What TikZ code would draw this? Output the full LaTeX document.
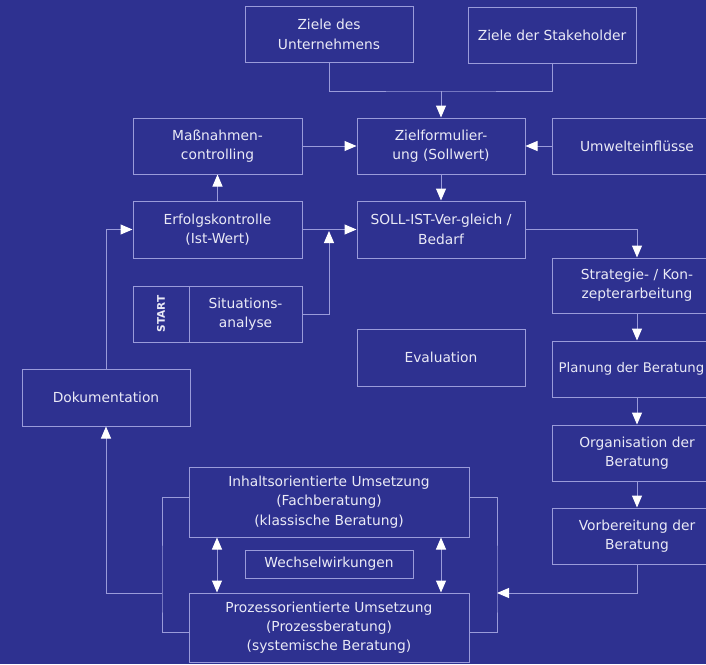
\documentclass[tikz,border=0pt]{standalone}
\usepackage{fontspec}
\setmainfont{DejaVu Sans}
\usetikzlibrary{arrows.meta}
\definecolor{bg}{HTML}{2E3190}
\definecolor{linec}{HTML}{9A9BDA}
\definecolor{txt}{HTML}{EAEAF6}
\begin{document}
\begin{tikzpicture}[x=1pt,y=-1pt,
  box/.style={draw=linec, line width=1pt, text=txt, align=center, inner sep=0pt,
    font=\fontsize{13.8}{19.3}\selectfont, minimum width=168pt, minimum height=56pt},
  conn/.style={draw=linec, line width=1pt},
  arr/.style={conn, -{Triangle[width=10pt,length=12pt,color=white]}},
  darr/.style={conn, {Triangle[width=10pt,length=12pt,color=white]}-{Triangle[width=10pt,length=12pt,color=white]}}]
\path[use as bounding box] (0,0) rectangle (706,664);
\clip (0,0) rectangle (706,664);
\fill[bg] (0,0) rectangle (706,664);
% boxes
\node[box] (zu) at (329,34.5) {Ziele des\\Unternehmens};
\node[box] (zs) at (552,35) {Ziele der Stakeholder};
\node[box, minimum width=169pt] (mc) at (217.5,146) {Maßnahmen-\\controlling};
\node[box] (zf) at (441,146) {Zielformulier-\\ung (Sollwert)};
\node[box, minimum width=170pt] (uw) at (637,146) {Umwelteinflüsse};
\node[box, minimum width=169pt, minimum height=57pt] (ek) at (217.5,229.5) {Erfolgskontrolle\\(Ist-Wert)};
\node[box, minimum height=57pt] (sb) at (441,229.5) {SOLL-IST-Ver-gleich /\\Bedarf};
\node[box, minimum width=56pt] (stt) at (161,314) {};
\node[text=txt, font=\bfseries\fontsize{10.5}{10.5}\selectfont, rotate=90] (stl) at (161,314) {START};
\node[box, minimum width=113pt] (si) at (245.5,314) {Situations-\\analyse};
\node[box, minimum height=57pt] (ev) at (441,357.5) {Evaluation};
\node[box, minimum width=170pt, minimum height=55pt] (sk) at (637,285.5) {Strategie- / Kon-\\zepterarbeitung};
\node[box, minimum width=170pt] (pl) at (637,369) {};
\node[text=txt, font=\fontsize{13.3}{19}\selectfont, inner sep=0pt] (plt) at (631.5,369) {Planung der Beratung};
\node[box, minimum width=170pt] (og) at (637,453) {Organisation der\\Beratung};
\node[box, minimum width=170pt] (vb) at (637,536) {Vorbereitung der\\Beratung};
\node[box, minimum height=57pt] (dk) at (106,397.5) {Dokumentation};
\node[box, minimum width=280pt, minimum height=70pt] (ih) at (329,502) {Inhaltsorientierte Umsetzung\\(Fachberatung)\\(klassische Beratung)};
\node[box, minimum width=280pt, minimum height=69pt] (pz) at (329,627.5) {Prozessorientierte Umsetzung\\(Prozessberatung)\\(systemische Beratung)};
\node[box, minimum height=28pt] (ww) at (329,564) {Wechselwirkungen};
% junctions
\coordinate (j1) at (441,91);
\coordinate (j2) at (329,231);
\coordinate (rb) at (497,593);
\coordinate (lb) at (162,593);
% connectors
\draw[conn] (zu.south) |- (j1) -| (zs.south);
\draw[arr] (j1) -- (zf.north);
\draw[arr] (mc.east) -- (zf.west);
\draw[arr] (uw.west) -- (zf.east);
\draw[arr] (zf.south) -- (sb.north);
\draw[arr] (ek.north) -- (mc.south);
\draw[arr] (ek.east) -- (sb.west);
\draw[arr] (si.east) -| (j2);
\draw[arr] (dk.north) |- (ek.west);
\draw[arr] (sb.east) -| (sk.north);
\draw[arr] (sk.south) -- (pl.north);
\draw[arr] (pl.south) -- (og.north);
\draw[arr] (og.south) -- (vb.north);
\draw[arr] (vb.south) |- (rb);
\draw[conn] (ih.east |- 0,497) -| (rb) |- (pz.east |- 0,632);
\draw[conn] (ih.west |- 0,497) -| (lb) |- (pz.west |- 0,632);
\draw[arr] (lb) -| (dk.south);
\draw[darr] (ih.south -| 217,0) -- (pz.north -| 217,0);
\draw[darr] (ih.south -| 441,0) -- (pz.north -| 441,0);
\end{tikzpicture}
\end{document}
